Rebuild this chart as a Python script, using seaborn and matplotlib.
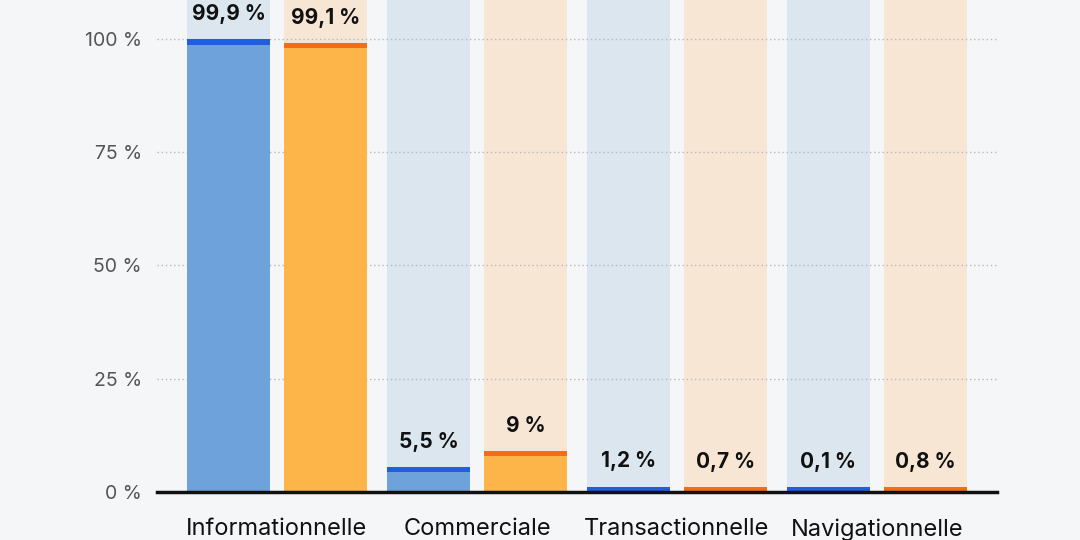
import matplotlib
matplotlib.use("Agg")
import matplotlib.pyplot as plt
import seaborn as sns
import pandas as pd
import numpy as np

categories = ["Informationnelle", "Commerciale", "Transactionnelle", "Navigationnelle"]
series_names = ["A", "B"]
values_a = [99.9, 5.5, 1.2, 0.1]
values_b = [99.1, 9.0, 0.7, 0.8]
labels_a = ["99,9 %", "5,5 %", "1,2 %", "0,1 %"]
labels_b = ["99,1 %", "9 %", "0,7 %", "0,8 %"]
yticks = [0, 25, 50, 75, 100]
ytick_labels = ["0 %", "25 %", "50 %", "75 %", "100 %"]

BG = "#f5f6f8"
fill_col = {"A": "#6ea2db", "B": "#fdb54a"}
cap_col = {"A": "#1f5fdc", "B": "#f46c14"}
back_col = {"A": "#dce6ef", "B": "#f8e6d4"}

YTOP = 108.6
CAP = 1.15

sns.set_theme(style="white")
plt.rcParams["font.family"] = ["Inter", "DejaVu Sans"]

rows = []
for i, c in enumerate(categories):
    rows.append(dict(cat=c, s="A", v=values_a[i], lab=labels_a[i]))
    rows.append(dict(cat=c, s="B", v=values_b[i], lab=labels_b[i]))
df = pd.DataFrame(rows)
df["back"] = YTOP
df["capv"] = np.maximum(df["v"], CAP)
df["fillv"] = np.maximum(df["v"] - CAP, 0)

fig = plt.figure(figsize=(10.8, 5.4), dpi=100, facecolor=BG)
ax = fig.add_axes([157 / 1080, 48 / 540, 840 / 1080, 492 / 540])
ax.set_facecolor(BG)

common = dict(x="cat", hue="s", order=categories, hue_order=series_names,
              width=0.97, gap=0.144, dodge=True, legend=False, ax=ax,
              linewidth=0, errorbar=None, saturation=1)
sns.barplot(data=df, y="back", palette=back_col, zorder=1, **common)
sns.barplot(data=df, y="capv", palette=cap_col, zorder=3, **common)
sns.barplot(data=df, y="fillv", palette=fill_col, zorder=4, **common)

for y in yticks[1:]:
    ax.axhline(y, color="#b5b8bd", linestyle=(0, (1, 2)), linewidth=1.0, zorder=2)

# value labels
n = len(categories)
cap_patches = ax.patches[2 * n:4 * n]
for s_idx, (vals, labs) in enumerate([(values_a, labels_a), (values_b, labels_b)]):
    for i in range(n):
        p = cap_patches[s_idx * n + i]
        xc = p.get_x() + p.get_width() / 2
        top = max(vals[i], CAP)
        ax.annotate(labs[i], (xc, top), xytext=(0, 11), textcoords="offset points",
                    ha="center", va="bottom", fontsize=15, fontweight="bold",
                    color="#111111", zorder=6)

ax.set_xlim(-0.6, 3.6)
ax.set_ylim(0, YTOP)
ax.set_yticks(yticks)
ax.set_yticklabels(ytick_labels, color="#555555", fontsize=14)
ax.tick_params(axis="y", length=0, pad=11)
ax.tick_params(axis="x", length=0, pad=19, labelsize=17, labelcolor="#111111")
ax.set_xlabel("")
ax.set_ylabel("")
for s in ["top", "right", "left"]:
    ax.spines[s].set_visible(False)
ax.spines["bottom"].set_color("#111111")
ax.spines["bottom"].set_linewidth(2.5)
ax.spines["bottom"].set_zorder(7)

fig.savefig("out.png", dpi=100, facecolor=BG)
